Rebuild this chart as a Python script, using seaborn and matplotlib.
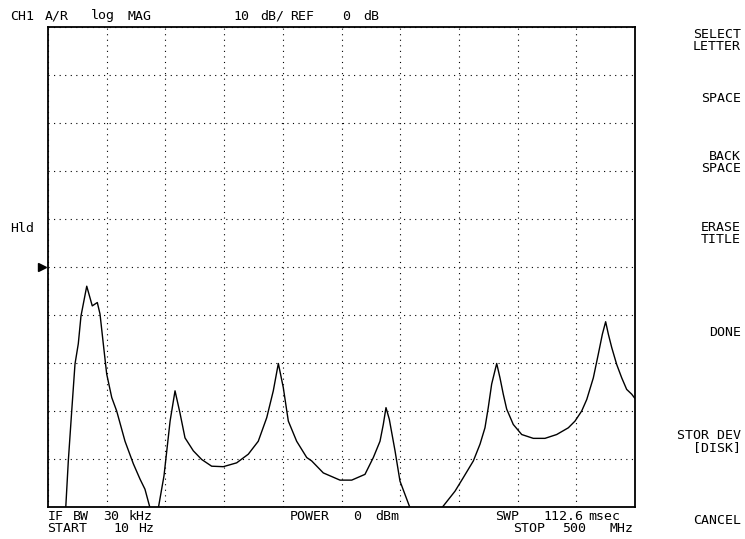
import matplotlib
matplotlib.use("Agg")
import matplotlib.pyplot as plt
import matplotlib.transforms as mtransforms
import seaborn as sns
import pandas as pd

# ---- data (frequency in MHz, magnitude in dB) ----
freq_mhz = [0.0, 15.1, 17.3, 20.2, 23.0, 25.8, 28.1, 33.0, 37.7, 42.0, 44.3, 47.1,
            50.0, 54.3, 58.5, 65.6, 72.7, 78.4, 82.6, 86.9, 90.3, 94.0, 98.8, 104.0,
            108.2, 112.4, 116.7, 123.8, 130.9, 139.4, 149.3, 160.7, 170.6, 179.1,
            186.3, 191.9, 196.2, 200.4, 204.7, 211.8, 220.4, 224.6, 234.5, 248.7,
            258.7, 270.0, 277.1, 282.8, 285.6, 287.9, 290.7, 295.6, 299.8, 304.1,
            308.4, 321.1, 335.4, 346.7, 353.7, 362.3, 368.0, 372.2, 375.0, 377.9,
            382.2, 385.0, 387.8, 390.7, 396.3, 403.5, 413.4, 423.3, 433.3, 443.2,
            448.9, 454.6, 458.9, 464.5, 468.7, 472.2, 475.0, 477.3, 480.2, 484.4,
            488.7, 492.9, 497.2, 500.0]
mag_db = [-75.0, -50.2, -40.4, -30.0, -20.2, -16.0, -10.2, -4.0, -8.1, -7.4, -9.8, -16.0,
          -22.3, -27.2, -30.0, -36.3, -41.0, -44.2, -46.3, -50.2, -60.0, -50.2, -43.5, -32.1,
          -25.8, -30.4, -35.6, -38.3, -40.1, -41.5, -41.6, -40.8, -39.0, -36.3,
          -31.4, -25.8, -20.1, -25.1, -32.1, -36.3, -39.7, -40.4, -42.9, -44.4,
          -44.4, -43.2, -39.7, -36.3, -32.8, -29.3, -31.7, -38.3, -44.6, -47.4,
          -50.2, -62.0, -50.2, -46.7, -43.9, -40.4, -36.9, -33.5, -29.3, -24.4,
          -20.1, -23.1, -26.5, -29.6, -32.8, -34.9, -35.7, -35.7, -34.9, -33.5,
          -32.1, -30.0, -27.6, -23.1, -18.2, -14.0, -11.4, -14.0, -16.8, -20.3,
          -23.1, -25.5, -26.5, -27.4]

x_grid = [0, 50, 100, 150, 200, 250, 300, 350, 400, 450, 500]
y_grid = [-50, -40, -30, -20, -10, 0, 10, 20, 30, 40, 50]
ref_level = 0

header_words = [("CH1", 10), ("A/R", 45), ("log", 91), ("MAG", 128),
                ("10", 233), ("dB/", 260), ("REF", 290), ("0", 342), ("dB", 363)]
footer_row1 = [("IF", 48), ("BW", 73), ("30", 103), ("kHz", 128),
               ("POWER", 290), ("0", 353), ("dBm", 375),
               ("SWP", 495), ("112.6", 543), ("msec", 588)]
footer_row2 = [("START", 47), ("10", 113), ("Hz", 138),
               ("STOP", 513), ("500", 562), ("MHz", 610)]
menu_labels = [("SELECT\nLETTER", 40.5), ("SPACE", 99), ("BACK\nSPACE", 162.5),
               ("ERASE\nTITLE", 233.5), ("DONE", 332),
               ("STOR DEV\n[DISK]", 441.5), ("CANCEL", 520)]

df = pd.DataFrame({"freq": freq_mhz, "mag": mag_db})

sns.set_style("white")
plt.rcParams["font.family"] = ["DejaVu Sans Mono", "DejaVu Sans"]

W, H = 745, 539
fig = plt.figure(figsize=(W / 100, H / 100), dpi=100)
left, right, top, bottom = 48, 635, 27, 507
ax = fig.add_axes([left / W, 1 - bottom / H, (right - left) / W, (bottom - top) / H])

sns.lineplot(data=df, x="freq", y="mag", ax=ax, color="black", linewidth=1.0,
             estimator=None, sort=False)

ax.set_xlim(x_grid[0], x_grid[-1])
ax.set_ylim(y_grid[0], y_grid[-1])
ax.set_xticks(x_grid)
ax.set_yticks(y_grid)
ax.set_xticklabels([])
ax.set_yticklabels([])
ax.tick_params(length=0)
ax.set_xlabel("")
ax.set_ylabel("")
ax.grid(True, color="black", linestyle=(0, (1, 4)), linewidth=0.8)
for s in ax.spines.values():
    s.set_color("black")
    s.set_linewidth(1.3)

# reference level marker
trans = mtransforms.blended_transform_factory(ax.transAxes, ax.transData)
ax.plot([-0.011], [ref_level], marker=">", color="black", markersize=6,
        transform=trans, clip_on=False)

fs = 9.5
def put(word, x, y, ha="left"):
    fig.text(x / W, 1 - y / H, word, ha=ha, va="center", fontsize=fs,
             color="black", multialignment=ha, linespacing=0.85)

for w, x in header_words:
    put(w, x, 16)
for w, x in footer_row1:
    put(w, x, 516)
for w, x in footer_row2:
    put(w, x, 529)
put("Hld", 10, 228)
for w, y in menu_labels:
    put(w, 741, y, ha="right")

fig.savefig("out.png", dpi=100, facecolor="white")
